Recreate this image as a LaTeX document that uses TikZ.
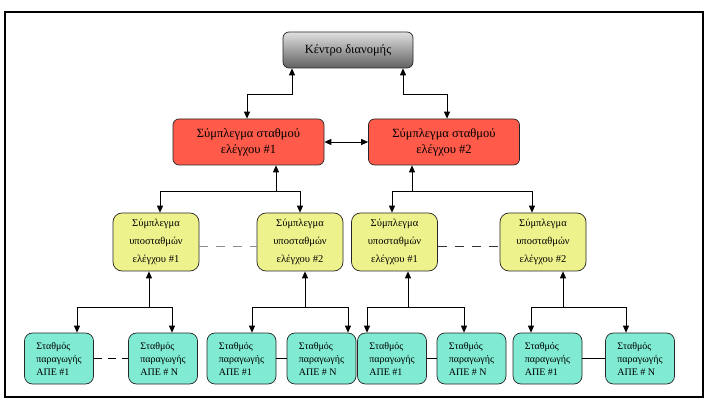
\documentclass[tikz,border=0pt]{standalone}
\usepackage{fontspec}
\setmainfont{Liberation Serif}
\usetikzlibrary{arrows.meta}
\definecolor{redfill}{HTML}{FF5A4A}
\definecolor{yelfill}{HTML}{EEF28C}
\definecolor{grnfill}{HTML}{80EAD2}
\begin{document}
\begin{tikzpicture}[x=1pt,y=-1pt,
  box/.style={draw=black!85, line width=0.7pt, align=center, inner sep=0pt},
  topbox/.style={box, rounded corners=6pt, minimum width=130pt, minimum height=36pt,
     top color=black!12, bottom color=black!62, font=\fontsize{12.5}{14}\selectfont},
  redbox/.style={box, rounded corners=6pt, fill=redfill, minimum width=151pt, minimum height=46pt,
     font=\fontsize{12.5}{16}\selectfont},
  yelbox/.style={box, rounded corners=9pt, fill=yelfill, minimum width=86pt, minimum height=58pt,
     font=\fontsize{10.5}{18}\selectfont},
  grnbox/.style={box, rounded corners=8pt, fill=grnfill, minimum width=69pt, minimum height=51pt,
     align=left, font=\fontsize{10}{13}\selectfont},
  conn/.style={line width=0.9pt, black},
  tip/.style={-{Triangle[length=7pt,width=6pt]}},
  bitip/.style={{Triangle[length=7pt,width=6pt]}-{Triangle[length=7pt,width=6pt]}},
  rtip/.style={{Triangle[length=7pt,width=6pt]}-},
  dsh/.style={line width=1pt, dash pattern=on 9pt off 8pt}
]
\useasboundingbox (0,0) rectangle (710,406);
\draw[line width=1.6pt, black] (5,12) rectangle (703,397);

\node[topbox] (top) at (348,50) {Κέντρο διανομής};
\node[redbox] (r1) at (248.5,142) {Σύμπλεγμα σταθμού\\ελέγχου \#1};
\node[redbox] (r2) at (444,142) {Σύμπλεγμα σταθμού\\ελέγχου \#2};

\node[yelbox] (y1) at (156,242) {Σύμπλεγμα\\υποσταθμών\\ελέγχου \#1};
\node[yelbox] (y2) at (300,242) {Σύμπλεγμα\\υποσταθμών\\ελέγχου \#2};
\node[yelbox] (y3) at (394.5,242) {Σύμπλεγμα\\υποσταθμών\\ελέγχου \#1};
\node[yelbox] (y4) at (543,242) {Σύμπλεγμα\\υποσταθμών\\ελέγχου \#2};

\node[grnbox] (g1) at (59,358.5) {Σταθμός\\παραγωγής\\ΑΠΕ \#1};
\node[grnbox] (g2) at (163,358.5) {Σταθμός\\παραγωγής\\ΑΠΕ \# Ν};
\node[grnbox] (g3) at (241.5,358.5) {Σταθμός\\παραγωγής\\ΑΠΕ \#1};
\node[grnbox] (g4) at (321.5,358.5) {Σταθμός\\παραγωγής\\ΑΠΕ \# Ν};
\node[grnbox] (g5) at (392,358.5) {Σταθμός\\παραγωγής\\ΑΠΕ \#1};
\node[grnbox] (g6) at (471.5,358.5) {Σταθμός\\παραγωγής\\ΑΠΕ \# Ν};
\node[grnbox] (g7) at (547.5,358.5) {Σταθμός\\παραγωγής\\ΑΠΕ \#1};
\node[grnbox] (g8) at (640,358.5) {Σταθμός\\παραγωγής\\ΑΠΕ \# Ν};

% top <-> red
\draw[conn,bitip] ([xshift=-56pt]top.south) -- ++(0,26) -| ([xshift=-1.5pt]r1.north);
\draw[conn,bitip] ([xshift=55pt]top.south) -- ++(0,26) -| ([xshift=3pt]r2.north);
\draw[conn,bitip] (r1.east) -- (r2.west);

% red -> yellow
\draw[conn,rtip] ([xshift=27.5pt]r1.south) -- ++(0,26) coordinate (j1);
\draw[conn,tip] (j1) -| ([xshift=4pt]y1.north);
\draw[conn,tip] (j1) -| (y2.north);
\draw[conn,rtip] ([xshift=-32pt]r2.south) -- ++(0,26) coordinate (j2);
\draw[conn,tip] (j2) -| ([xshift=-2.5pt]y3.north);
\draw[conn,tip] (j2) -| ([xshift=-11pt]y4.north);

% yellow dashed
\draw[dsh, black!45] ([yshift=-5pt]y1.east) -- ([yshift=-5pt]y2.west);
\draw[dsh, black!80] ([yshift=-5pt]y3.east) -- ([yshift=-5pt]y4.west);

% yellow -> green
\draw[conn,rtip] ([xshift=-7pt]y1.south) -- ++(0,36) coordinate (k1);
\draw[conn,tip] (k1) -| ([xshift=18pt]g1.north);
\draw[conn,tip] (k1) -| ([xshift=9pt]g2.north);
\draw[conn,rtip] ([xshift=5pt]y2.south) -- ++(0,36) coordinate (k2);
\draw[conn,tip] (k2) -| ([xshift=10.5pt]g3.north);
\draw[conn,tip] (k2) -| ([xshift=26.5pt]g4.north);
\draw[conn,rtip] ([xshift=13.5pt]y3.south) -- ++(0,36) coordinate (k3);
\draw[conn,tip] (k3) -| ([xshift=-25pt]g5.north);
\draw[conn,tip] (k3) -| ([xshift=-7.5pt]g6.north);
\draw[conn,rtip] ([xshift=20pt]y4.south) -- ++(0,36) coordinate (k4);
\draw[conn,tip] (k4) -| ([xshift=-16.5pt]g7.north);
\draw[conn,tip] (k4) -| ([xshift=-14pt]g8.north);

% green links
\draw[line width=0.8pt, dash pattern=on 8pt off 6pt] (g1.east) -- (g2.west);
\draw[line width=0.8pt] (g3.east) -- (g4.west);
\draw[line width=0.8pt] (g5.east) -- (g6.west);
\draw[line width=0.8pt] (g7.east) -- (g8.west);
\end{tikzpicture}
\end{document}
